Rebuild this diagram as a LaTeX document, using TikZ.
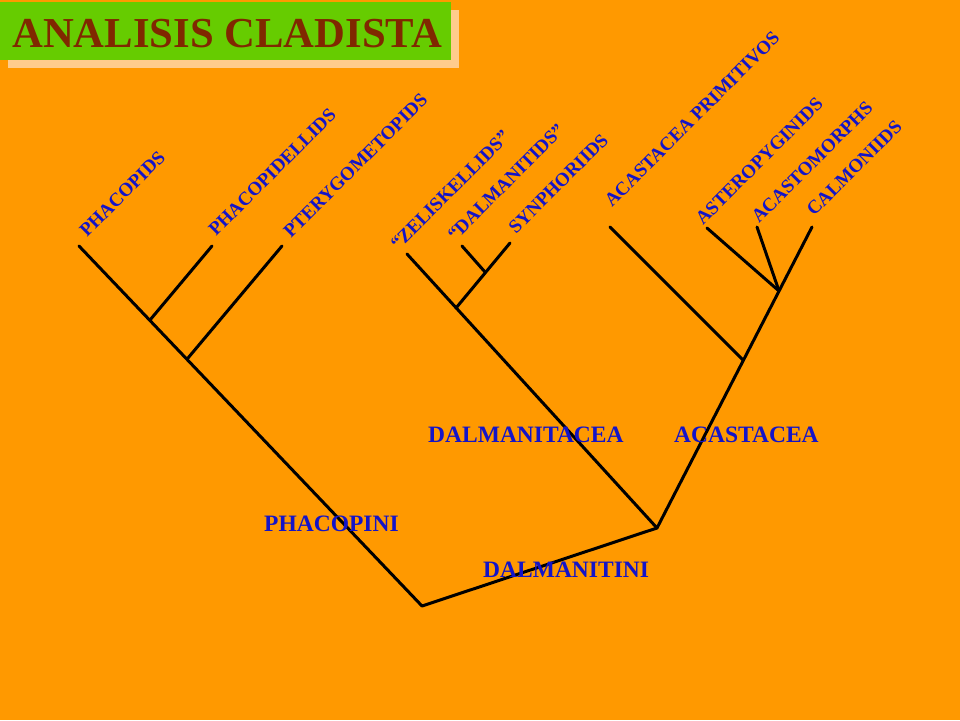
\documentclass[tikz,border=0pt]{standalone}
\usepackage{fontspec}
\setmainfont{Liberation Serif}
\definecolor{bgorange}{RGB}{255,153,0}
\definecolor{titlegreen}{RGB}{102,204,0}
\definecolor{titleshadow}{RGB}{255,204,140}
\definecolor{titlebrown}{RGB}{128,40,0}
\definecolor{labelblue}{RGB}{20,20,200}
\begin{document}
\begin{tikzpicture}[x=1pt,y=-1pt,
  branch/.style={line width=3pt,black,line cap=round,line join=round},
  taxon/.style={font=\fontsize{19}{19}\selectfont\bfseries,text=labelblue,rotate=45,anchor=base west,inner sep=0pt},
  group/.style={font=\fontsize{23.5}{23.5}\selectfont\bfseries,text=labelblue,anchor=base west,inner sep=0pt}]
\fill[bgorange] (0,0) rectangle (960,720);
\useasboundingbox (0,0) rectangle (960,720);
% title
\fill[titleshadow] (8,10) rectangle (459,68);
\fill[titlegreen] (0,2) rectangle (451,60);
\node[font=\fontsize{42.7}{42.7}\selectfont\bfseries,text=titlebrown,anchor=base west,inner sep=0pt] (title) at (12,47) {ANALISIS CLADISTA};
% coordinates
\coordinate (root) at (422,606);
\coordinate (dn) at (657,528);
\coordinate (p1) at (150,320);
\coordinate (p2) at (188,358);
\coordinate (tPha) at (79,246);
\coordinate (tPhd) at (212,246);
\coordinate (tPte) at (282,246);
\coordinate (d1) at (456,308);
\coordinate (d2) at (485,272);
\coordinate (tZel) at (407,254);
\coordinate (tDal) at (462,246);
\coordinate (tSyn) at (510,243);
\coordinate (a1) at (743,360);
\coordinate (a2) at (779,291);
\coordinate (tAcp) at (610,227);
\coordinate (tAst) at (707,228);
\coordinate (tAcm) at (757,227);
\coordinate (tCal) at (812,227);
% branches
\draw[branch] (tPha) -- (root) -- (dn);
\draw[branch] (p1) -- (tPhd);
\draw[branch] (p2) -- (tPte);
\draw[branch] (dn) -- (tZel);
\draw[branch] (d1) -- (tSyn);
\draw[branch] (d2) -- (tDal);
\draw[branch] (dn) -- (tCal);
\draw[branch] (a1) -- (tAcp);
\draw[branch] (a2) -- (tAst);
\draw[branch] (a2) -- (tAcm);
% taxa labels
\node[taxon] (lPha) at (87,238) {PHACOPIDS};
\node[taxon] (lPhd) at (216,237) {PHACOPIDELLIDS};
\node[taxon] (lPte) at (291,239) {PTERYGOMETOPIDS};
\node[taxon] (lZel) at (398,251) {“ZELISKELLIDS”};
\node[taxon] (lDal) at (455,242) {“DALMANITIDS”};
\node[taxon] (lSyn) at (516,235) {SYNPHORIIDS};
\node[taxon] (lAcp) at (612,208) {ACASTACEA PRIMITIVOS};
\node[taxon] (lAst) at (703,226) {ASTEROPYGINIDS};
\node[taxon] (lAcm) at (759,224) {ACASTOMORPHS};
\node[taxon] (lCal) at (814,217) {CALMONIIDS};
% group labels
\node[group] (gDal) at (428,442) {DALMANITACEA};
\node[group] (gAca) at (674,442) {ACASTACEA};
\node[group] (gPha) at (264,531) {PHACOPINI};
\node[group] (gDtn) at (483,577) {DALMANITINI};
\end{tikzpicture}
\end{document}
